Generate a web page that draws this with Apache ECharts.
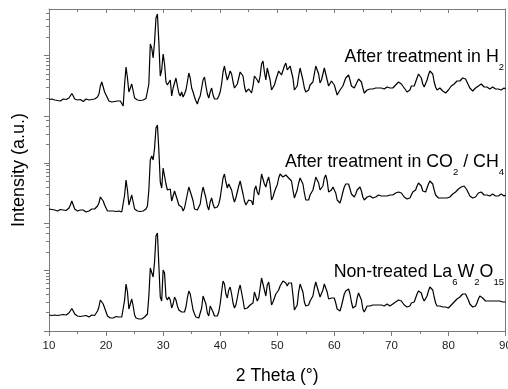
<!DOCTYPE html>
<html><head><meta charset="utf-8">
<script src="https://cdn.jsdelivr.net/npm/echarts@6/dist/echarts.min.js"></script>
<style>html,body{margin:0;padding:0;background:#fff}#c{width:508px;height:389px}</style>
</head><body><div id="c"></div>
<script>
// 2-theta scan positions (degrees)
const twoTheta = [
10,10.25,10.5,10.75,11,11.25,11.5,11.75,12,12.25,12.5,12.75,13,13.25,13.5,13.75,
14,14.25,14.5,14.75,15,15.25,15.5,15.75,16,16.25,16.5,16.75,17,17.25,17.5,17.75,
18,18.25,18.5,18.75,19,19.25,19.5,19.75,20,20.25,20.5,20.75,21,21.25,21.5,21.75,
22,22.25,22.5,22.75,23,23.25,23.5,23.75,24,24.25,24.5,24.75,25,25.25,25.5,25.75,
26,26.25,26.5,26.75,27,27.25,27.5,27.75,28,28.25,28.5,28.75,29,29.25,29.5,29.75,
30,30.25,30.5,30.75,31,31.25,31.5,31.75,32,32.25,32.5,32.75,33,33.25,33.5,33.75,
34,34.25,34.5,34.75,35,35.25,35.5,35.75,36,36.25,36.5,36.75,37,37.25,37.5,37.75,
38,38.25,38.5,38.75,39,39.25,39.5,39.75,40,40.25,40.5,40.75,41,41.25,41.5,41.75,
42,42.25,42.5,42.75,43,43.25,43.5,43.75,44,44.25,44.5,44.75,45,45.25,45.5,45.75,
46,46.25,46.5,46.75,47,47.25,47.5,47.75,48,48.25,48.5,48.75,49,49.25,49.5,49.75,
50,50.25,50.5,50.75,51,51.25,51.5,51.75,52,52.25,52.5,52.75,53,53.25,53.5,53.75,
54,54.25,54.5,54.75,55,55.25,55.5,55.75,56,56.25,56.5,56.75,57,57.25,57.5,57.75,
58,58.25,58.5,58.75,59,59.25,59.5,59.75,60,60.25,60.5,60.75,61,61.25,61.5,61.75,
62,62.25,62.5,62.75,63,63.25,63.5,63.75,64,64.25,64.5,64.75,65,65.25,65.5,65.75,
66,66.25,66.5,66.75,67,67.25,67.5,67.75,68,68.25,68.5,68.75,69,69.25,69.5,69.75,
70,70.25,70.5,70.75,71,71.25,71.5,71.75,72,72.25,72.5,72.75,73,73.25,73.5,73.75,
74,74.25,74.5,74.75,75,75.25,75.5,75.75,76,76.25,76.5,76.75,77,77.25,77.5,77.75,
78,78.25,78.5,78.75,79,79.25,79.5,79.75,80,80.25,80.5,80.75,81,81.25,81.5,81.75,
82,82.25,82.5,82.75,83,83.25,83.5,83.75,84,84.25,84.5,84.75,85,85.25,85.5,85.75,
86,86.25,86.5,86.75,87,87.25,87.5,87.75,88,88.25,88.5,88.75,89,89.25,89.5,89.75,
90];

// Stacked intensities (a.u., offset traces)
const afterH2 = [
231.5,230.5,232,230, 231,232,230.5,231.5, 230,231,232,230.5, 231.5,231,233,235,
237.5,235,232,230.5, 231,230,231.5,231, 229.5,231,232,230, 231,230,231.5,231,
232,233,234,237, 245,249,247,239, 238,233,230,230.5, 229,230,229.5,231,
230,228.5,230,228, 225,247,264,253, 239,241,247,240, 233,231.5,231,232,
230.5,232,231,231.5, 232.5,234,247,287, 283,273,289,313, 317,289,255,261,
277,267,249,246, 247,251,235,243, 248,253,245,238, 235,239,234,237,
241,249,258,253, 243,239,234,230, 227,232,235,243, 251,254,245,237,
233,239,243,236, 232,233,232,235, 239,247,259,265, 257,251,255,260,
257,249,243,245, 247,253,259,261, 255,245,239,240, 242,241,238,245,
255,257,251,248, 255,267,270,259, 251,263,264,251, 241,243,246,251,
253,260,262,256, 254,265,268,261, 259,265,267,253, 241,239,245,255,
263,261,251,243, 239,238,241,246, 245,249,257,265, 267,257,248,251,
257,263,261,251, 245,247,250,250, 246,241,236,238, 241,243,245,249,
253,255,256,251, 245,243,243,245, 249,252,253,249, 243,238,239,241,
241,242,240,242, 241,243,242,243, 241,243,244,242, 243,244,242,243,
244,243,245,246, 247,249,250,247, 245,243,241,239, 238,241,245,247,
245,249,253,257, 258,253,247,244, 245,251,256,260, 261,257,249,244,
241,240,243,242, 240,239,238,239, 241,243,245,246, 247,249,250,251,
250,252,253,254, 252,249,246,243, 241,240,241,243, 244,245,246,247,
245,244,243,244, 243,242,243,244, 243,242,243,242, 243,241,242,243,
242];

const afterCO2CH4 = [
122,120.5,121.5,120, 121,122,120,121, 121.5,120,121,122, 120.5,122,123,126,
130,126,122,120.5, 120,121.5,121,119.5, 121,120,119,121, 120,121,122,120.5,
122,123,125,128, 134,133,130,126, 123,120,119,120, 118.5,120,118,119.5,
119,120,118,119, 121,136,151,141, 126,131,136,129, 122,120.5,120,121,
119.5,121,120,121, 122,125,141,171, 175,171,183,203, 206,181,149,143,
163,161,147,141, 141,142,130,135, 140,139,131,126, 128,124,120,123,
130,137,144,142, 135,130,122,120, 121,122,127,137, 144,143,133,125,
121,129,133,127, 123,122,124,127, 133,143,153,157, 149,143,147,149,
141,134,129,133, 139,145,150,149, 137,130,126,128, 131,133,130,126,
141,145,139,136, 145,157,159,147, 144,150,154,146, 131,134,139,143,
146,153,157,156, 154,155,156,154, 153,152,150,141, 133,134,141,148,
153,154,147,138, 131,129,131,136, 138,141,147,154, 155,148,141,140,
145,153,156,150, 139,138,141,144, 144,138,131,129, 128,133,139,144,
147,148,147,142, 137,135,134,137, 141,143,144,140, 134,131,132,134,
134,135,134,133, 135,134,135,136, 134,135,134,135, 136,135,134,136,
135,136,137,138, 139,139,140,138, 136,134,133,132, 131,133,136,139,
138,141,145,148, 149,145,140,138, 139,143,147,150, 150,147,141,136,
134,133,134,133, 132,133,132,133, 133,134,136,137, 138,139,141,142,
143,144,144,145, 144,141,138,135, 134,133,132,134, 136,138,139,139,
137,136,135,136, 136,135,136,137, 136,135,136,135, 136,137,136,135,
136];

const nonTreated = [
16,14.5,15.5,15, 16,14,15.5,15, 16,15,16.5,15, 16,17,18,20,
22.5,20,17,15.5, 15,16,14.5,16, 15,14,15.5,15, 14,15,16,15,
15.5,17,20,24, 31,29,27,23, 19,15,14,13, 14,13,13.5,14.5,
13,14,12.5,14, 15,31,47,39, 22,27,32,25, 16,13,12.5,12,
13,12,12.5,14, 14.5,17,35,63, 61,54,69,95, 98,66,34,30,
61,58,34,31, 34,31,23,27, 34,31,25,21, 21,19,18,19,
24,33,40,37, 29,21,17,14, 13,13,14,23, 35,37,27,18,
15,25,27,19, 15,14,15,19, 27,39,50,47, 37,33,41,44,
37,28,23,26, 33,41,46,44, 31,22,20,23, 24,26,25,28,
39,39,30,33, 43,53,54,41, 35,46,49,39, 26,29,33,37,
38,41,45,47, 50,52,48,45, 48,50,48,36, 21,20,26,39,
47,47,39,29, 25,24,26,30, 31,35,43,49, 48,39,34,35,
41,47,47,39, 32,31,33,35, 33,28,22,20, 20,25,31,37,
40,41,42,37, 29,23,21,25, 33,38,38,31, 22,19,21,25,
26,25,27,26, 25,26,27,26, 25,26,27,25, 26,27,26,25,
26,27,28,29, 30,31,32,30, 28,26,25,24, 23,25,28,30,
29,33,37,40, 42,38,33,30, 31,35,40,44, 44,41,34,28,
25,24,25,24, 24,23,24,23, 23,24,26,27, 29,30,32,33,
34,35,37,38, 37,34,31,27, 25,24,23,25, 28,32,35,36,
33,31,30,29, 30,29,30,31, 30,29,30,29, 30,31,29,30,
29];

const xTickValues = [10,20,30,40,50,60,70,80,90];
const traceLabels = [
  ['After treatment in H', '2'],
  ['After treatment in CO', '2', ' / CH', '4'],
  ['Non-treated La', '6', 'W', '2', 'O', '15']
];

// Log-style decoration ticks for each of the three stacked panels
const yMax = 322, panelH = yMax / 3, decade = 60.8;
const majorTicks = [], minorTicks = [];
for (let p = 0; p < 3; p++) {
  const base = p * panelH;
  for (let dec = 0; dec < 2; dec++) {
    for (let k = 1; k <= 9; k++) {
      const v = base + decade * (dec + Math.log10(k));
      if (v > base + panelH - 0.5 || v > yMax) continue;
      (k === 1 ? majorTicks : minorTicks).push(+v.toFixed(2));
    }
  }
}

const FONT = '"Liberation Sans", Arial, sans-serif';
const AX = '#7a7a7a';
const chart = echarts.init(document.getElementById('c'), null, {renderer: 'canvas'});

function richText(parts) {
  return parts.map((t, i) => (i % 2 === 0 ? '{m|' : '{s|') + t + '}').join('');
}
const rich = {
  m: {fontSize: 17.8, lineHeight: 24, verticalAlign: 'top', fontFamily: FONT, fill: '#000'},
  s: {fontSize: 9.5, lineHeight: 10, verticalAlign: 'bottom', fontFamily: FONT, fill: '#000'}
};
const labelTops = [48.5, 153.5, 263.5];

const series = [afterH2, afterCO2CH4, nonTreated].map(arr => ({
  type: 'line',
  data: twoTheta.map((t, i) => [t, arr[i]]),
  showSymbol: false,
  symbol: 'none',
  lineStyle: {color: '#000', width: 1.2},
  xAxisIndex: 0, yAxisIndex: 0,
  silent: true
}));

chart.setOption({
  animation: false,
  backgroundColor: '#fff',
  grid: {left: 49, top: 9, width: 456.5, height: 322, outerBoundsMode: 'none', containLabel: false},
  xAxis: [{
    type: 'value', min: 10, max: 90, interval: 10, position: 'bottom',
    axisLine: {show: true, onZero: false, lineStyle: {color: AX, width: 1}},
    axisTick: {show: true, inside: false, length: 5, lineStyle: {color: AX}},
    minorTick: {show: true, splitNumber: 2, length: 3, lineStyle: {color: AX}},
    axisLabel: {show: true, fontSize: 11.5, color: '#222', margin: 9, fontFamily: FONT,
      customValues: xTickValues},
    splitLine: {show: false}, minorSplitLine: {show: false},
    name: '2 Theta (°)', nameLocation: 'middle', nameGap: 36,
    nameTextStyle: {fontSize: 17.5, color: '#000', fontFamily: FONT}
  }, {
    type: 'value', min: 10, max: 90, interval: 10, position: 'top',
    axisLine: {show: true, onZero: false, lineStyle: {color: AX, width: 1}},
    axisTick: {show: true, inside: true, length: 4, lineStyle: {color: AX}},
    minorTick: {show: true, splitNumber: 2, length: 3, lineStyle: {color: AX}},
    axisLabel: {show: false}, splitLine: {show: false}
  }],
  yAxis: [{
    type: 'value', min: 0, max: yMax, position: 'left',
    axisLine: {show: true, onZero: false, lineStyle: {color: AX, width: 1}},
    axisTick: {show: true, inside: false, length: 3, customValues: minorTicks, lineStyle: {color: AX}},
    axisLabel: {show: false}, splitLine: {show: false},
    name: 'Intensity (a.u.)', nameLocation: 'middle', nameGap: 21, nameRotate: 90,
    nameTextStyle: {fontSize: 18, color: '#000', fontFamily: FONT}
  }, {
    type: 'value', min: 0, max: yMax, position: 'left',
    axisLine: {show: false, onZero: false},
    axisTick: {show: true, inside: false, length: 5, customValues: majorTicks, lineStyle: {color: AX}},
    axisLabel: {show: false}, splitLine: {show: false}
  }, {
    type: 'value', min: 0, max: yMax, position: 'right',
    axisLine: {show: true, onZero: false, lineStyle: {color: AX, width: 1}},
    axisTick: {show: false}, axisLabel: {show: false}, splitLine: {show: false}
  }],
  graphic: traceLabels.map((parts, i) => ({
    type: 'text', x: 504, y: labelTops[i], silent: true,
    style: {text: richText(parts), align: 'right', verticalAlign: 'top', rich: rich}
  })),
  series: series
});
</script></body></html>
